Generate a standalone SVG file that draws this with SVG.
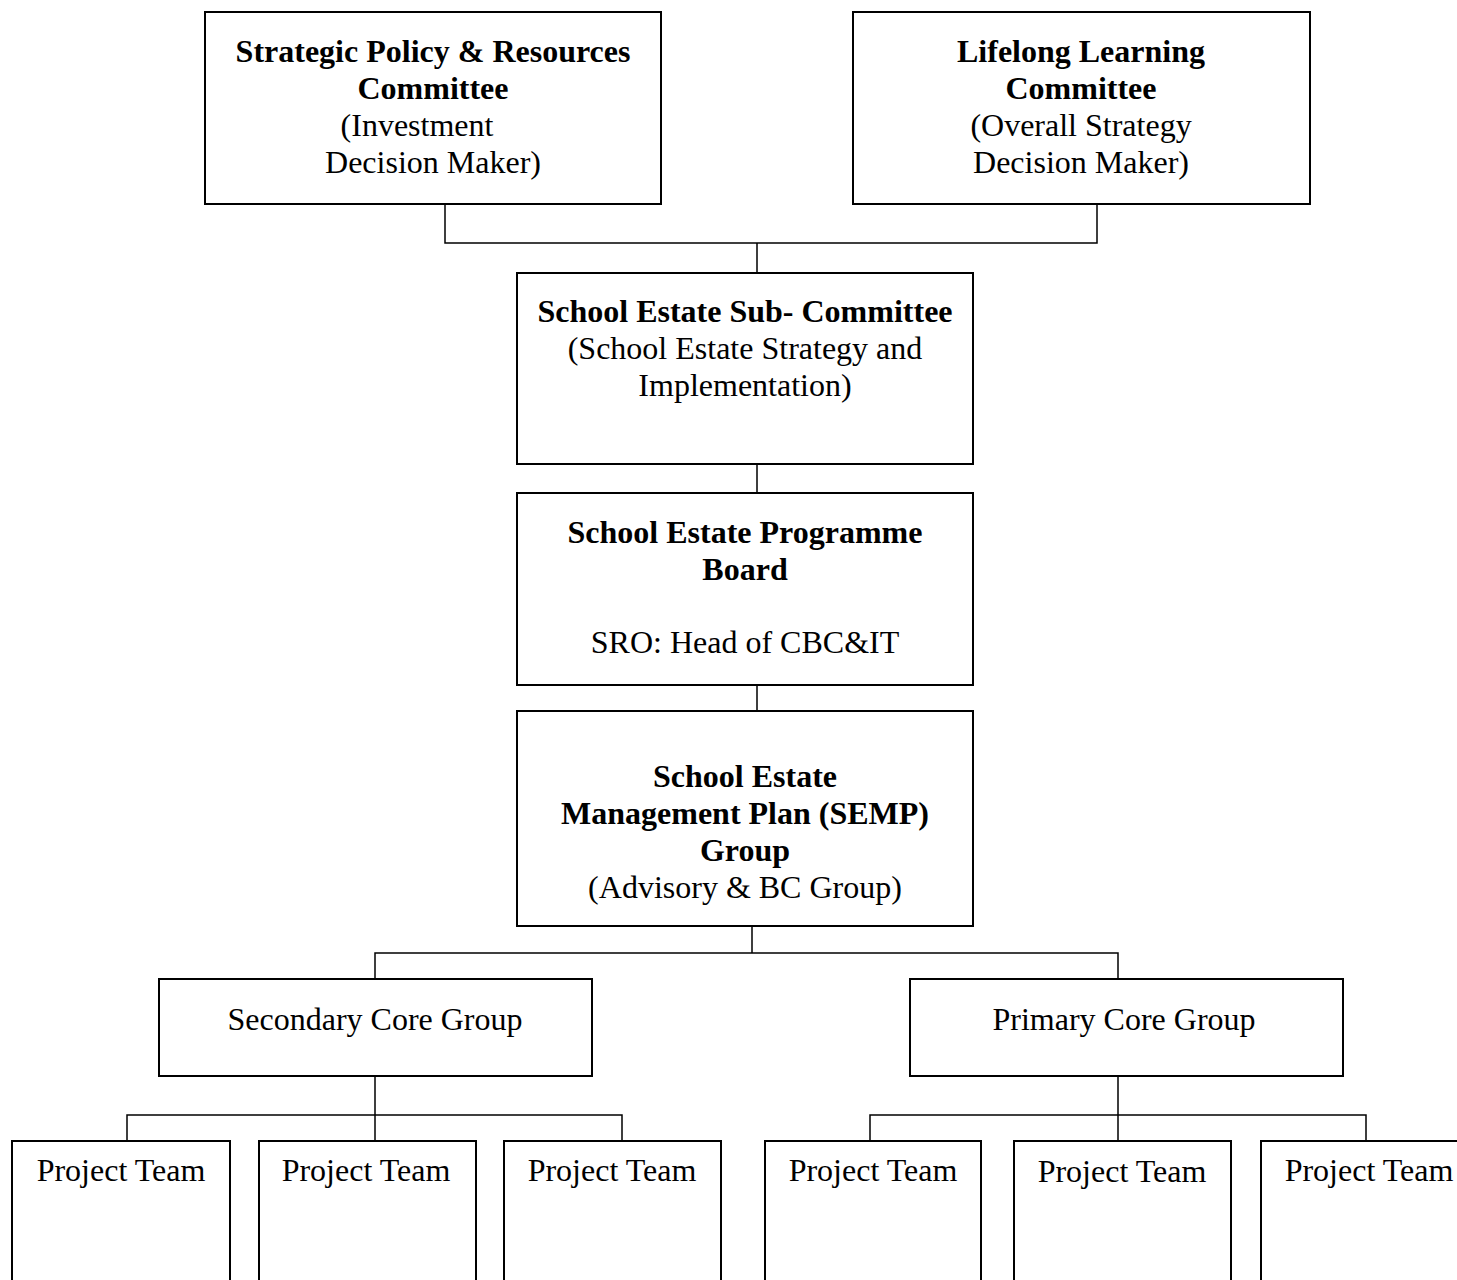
<svg xmlns="http://www.w3.org/2000/svg" width="1457" height="1280" viewBox="0 0 1457 1280">
<style>
.box{fill:#fff;stroke:#000;stroke-width:2}
.con{fill:none;stroke:#000;stroke-width:1.5}
text{font-family:"Liberation Serif","Times New Roman",serif;font-size:32px;fill:#000;text-anchor:middle}
.b{font-weight:bold}
</style>
<rect width="1457" height="1280" fill="#fff"/>
<g id="connectors">
<path class="con" d="M445 204V243H1097V204M757 243V273"/>
<path class="con" d="M757 464V493M757 685V711"/>
<path class="con" d="M752 926V953M375 979V953H1118V979"/>
<path class="con" d="M375 1076V1115M127 1141V1115H622V1141M375 1115V1141"/>
<path class="con" d="M1118 1076V1115M870 1141V1115H1366V1141M1118 1115V1141"/>
</g>
<g id="n1"><rect class="box" x="205" y="12" width="456" height="192"/>
<text x="433" y="62" class="b">Strategic Policy &amp; Resources</text>
<text x="433" y="99" class="b">Committee</text>
<text x="417" y="136">(Investment</text>
<text x="433" y="173">Decision Maker)</text></g>
<g id="n2"><rect class="box" x="853" y="12" width="457" height="192"/>
<text x="1081" y="62" class="b">Lifelong Learning</text>
<text x="1081" y="99" class="b">Committee</text>
<text x="1081" y="136">(Overall Strategy</text>
<text x="1081" y="173">Decision Maker)</text></g>
<g id="n3"><rect class="box" x="517" y="273" width="456" height="191"/>
<text x="745" y="322" class="b">School Estate Sub- Committee</text>
<text x="745" y="359">(School Estate Strategy and</text>
<text x="745" y="396">Implementation)</text></g>
<g id="n4"><rect class="box" x="517" y="493" width="456" height="192"/>
<text x="745" y="543" class="b">School Estate Programme</text>
<text x="745" y="580" class="b">Board</text>
<text x="745" y="653">SRO: Head of CBC&amp;IT</text></g>
<g id="n5"><rect class="box" x="517" y="711" width="456" height="215"/>
<text x="745" y="787" class="b">School Estate</text>
<text x="745" y="824" class="b">Management Plan (SEMP)</text>
<text x="745" y="861" class="b">Group</text>
<text x="745" y="898">(Advisory &amp; BC Group)</text></g>
<g id="n6"><rect class="box" x="159" y="979" width="433" height="97"/>
<text x="375" y="1030">Secondary Core Group</text></g>
<g id="n7"><rect class="box" x="910" y="979" width="433" height="97"/>
<text x="1124" y="1030">Primary Core Group</text></g>
<g id="p1"><rect class="box" x="12" y="1141" width="218" height="160"/><text x="121" y="1181">Project Team</text></g>
<g id="p2"><rect class="box" x="259" y="1141" width="217" height="160"/><text x="366" y="1181">Project Team</text></g>
<g id="p3"><rect class="box" x="504" y="1141" width="217" height="160"/><text x="612" y="1181">Project Team</text></g>
<g id="p4"><rect class="box" x="765" y="1141" width="216" height="160"/><text x="873" y="1181">Project Team</text></g>
<g id="p5"><rect class="box" x="1014" y="1141" width="217" height="160"/><text x="1122" y="1182">Project Team</text></g>
<g id="p6"><rect class="box" x="1261" y="1141" width="217" height="160"/><text x="1369" y="1181">Project Team</text></g>
</svg>
